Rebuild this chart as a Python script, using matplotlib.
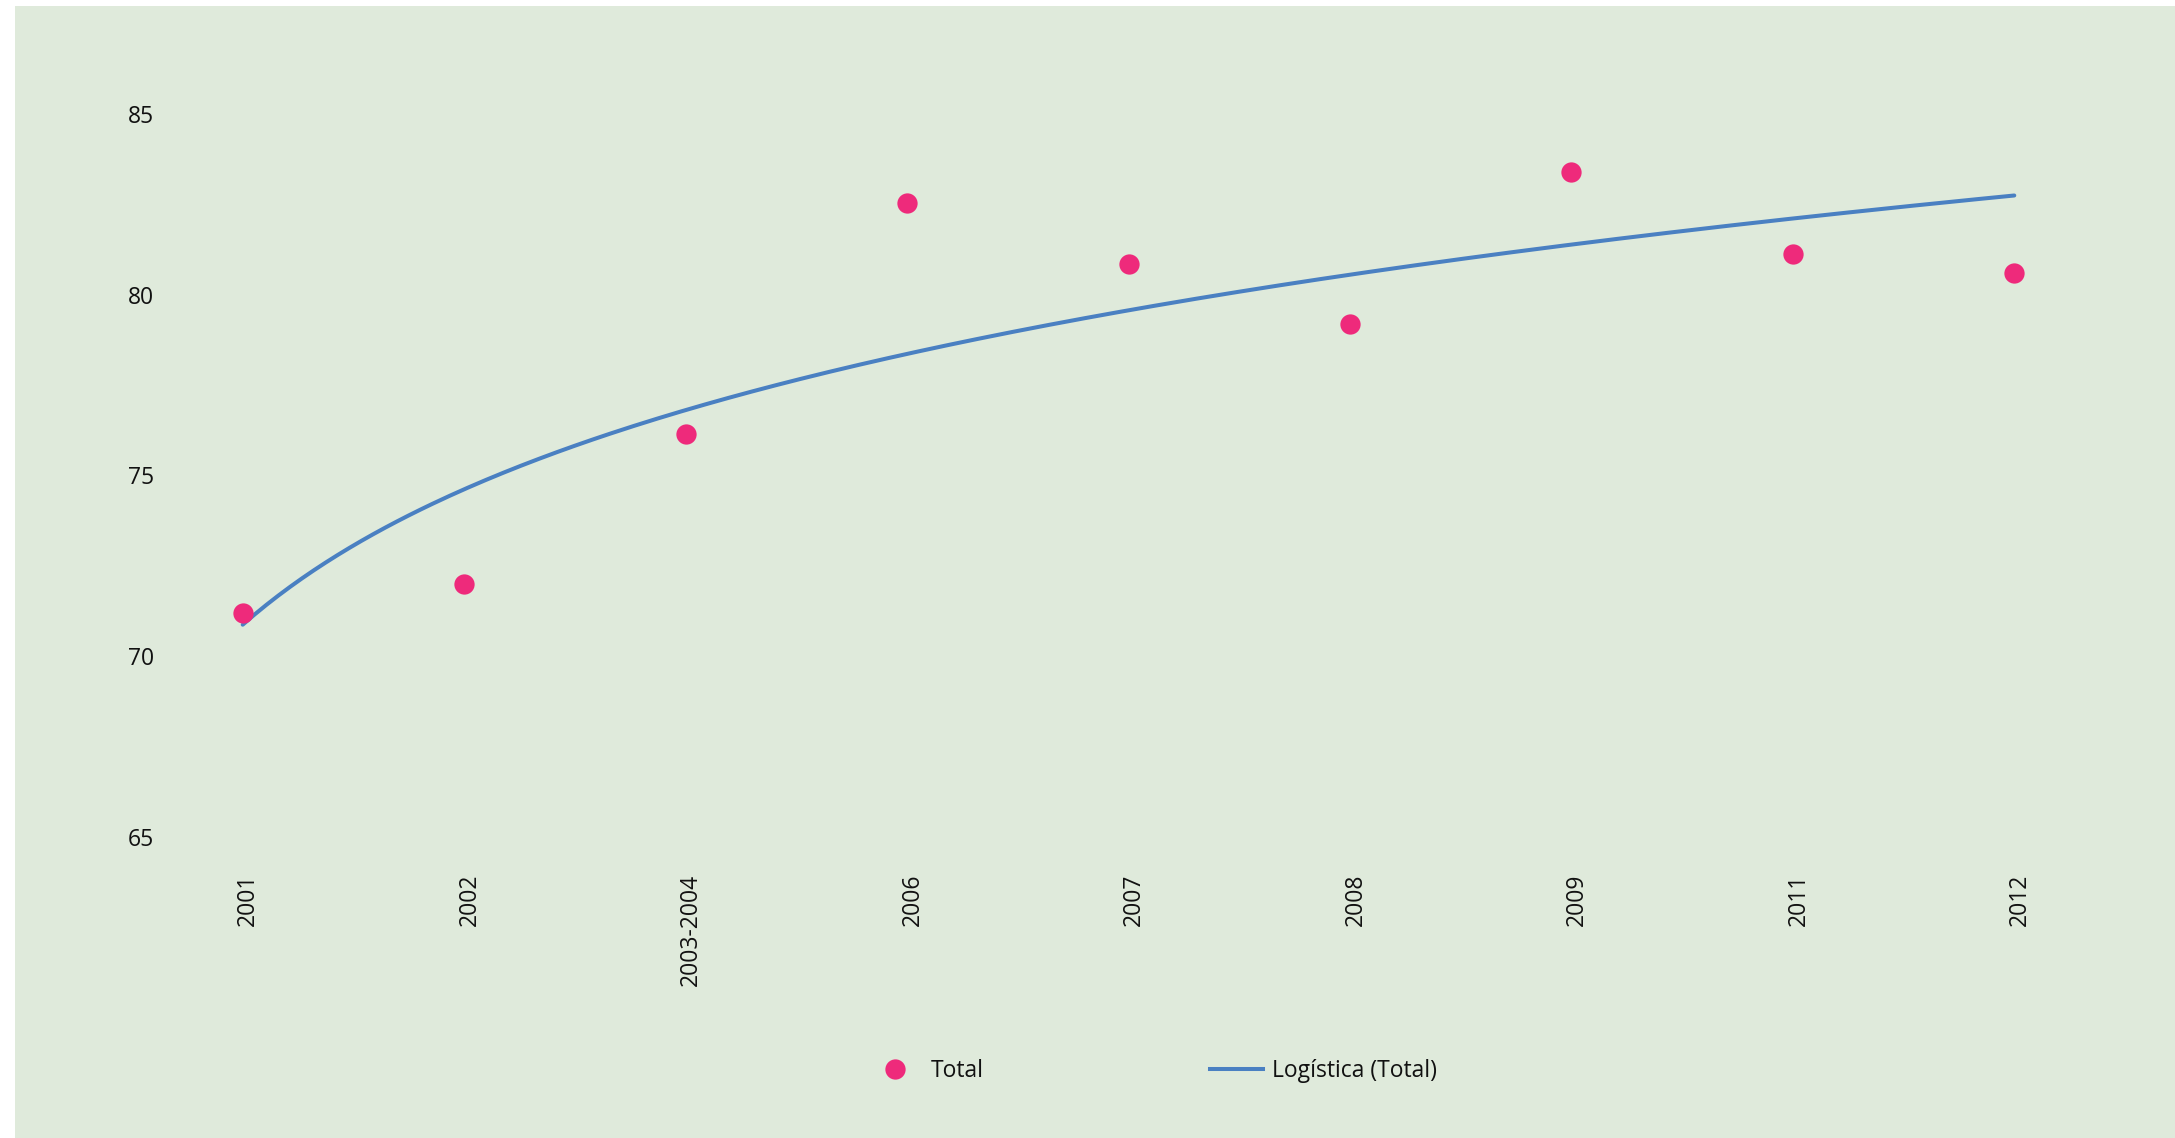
"""
Scatter of yearly totals with a logarithmic trend line ("Logística").
"""
import matplotlib.pyplot as plt
import numpy as np
from matplotlib.lines import Line2D
from matplotlib.patches import Rectangle
from matplotlib.transforms import ScaledTranslation

# data
years = ['2001', '2002', '2003-2004', '2006', '2007', '2008', '2009', '2011', '2012']
total = [71.18, 71.99, 76.13, 82.54, 80.85, 79.20, 83.39, 81.12, 80.59]
y_ticks = [65, 70, 75, 80, 85]

W, H, DPI = 2175, 1138, 100
bg = '#dfeadb'
pink = '#ee2a7b'
blue = '#4a80c2'

plt.rcParams['font.family'] = ['Open Sans', 'DejaVu Sans']

fig = plt.figure(figsize=(W / DPI, H / DPI), dpi=DPI)
fig.patch.set_facecolor('white')
# green chart panel (white strip on left and top)
fig.patches.append(Rectangle((15 / W, 0), 1 - 15 / W, 1 - 6 / H,
                             transform=fig.transFigure, facecolor=bg,
                             edgecolor='none', zorder=-10))

# plot area in pixels
left, right = 165, 2092
top, bottom = 114, 836.5
ax = fig.add_axes([left / W, 1 - bottom / H, (right - left) / W, (bottom - top) / H])
ax.set_facecolor('none')

x = np.arange(1, len(years) + 1)

# log trend fitted on the category index, like the spreadsheet trend line
b, a = np.polyfit(np.log(x), total, 1)
xs = np.linspace(1, len(years), 300)
ax.plot(xs, a + b * np.log(xs), color=blue, lw=2.9, solid_capstyle='round',
        zorder=2, clip_on=False)

ax.plot(x, total, linestyle='none', marker='o', markersize=14.6, color=pink,
        markeredgewidth=0, zorder=3, clip_on=False)

pad = (242.7 - left) / 221.4
ax.set_xlim(1 - pad, len(years) + pad)
ax.set_ylim(65, 85)
ax.set_yticks(y_ticks)
ax.set_xticks(x)
ax.set_xticklabels(years, rotation=90, va='top', ha='center')
ax.tick_params(axis='both', length=0, labelsize=16.5, colors='#111111')
ax.tick_params(axis='y', pad=8)
ax.tick_params(axis='x', pad=27)
# nudge year labels a little to the right, as in the original
shift = ScaledTranslation(4 / 72, 0, fig.dpi_scale_trans)
for lbl in ax.get_xticklabels():
    lbl.set_transform(lbl.get_transform() + shift)
for s in ax.spines.values():
    s.set_visible(False)

legend_elements = [
    Line2D([0], [0], linestyle='none', marker='o', markersize=14.6, color=pink,
           markeredgewidth=0, label='Total'),
    Line2D([0], [0], color=blue, lw=2.9, label='Logística (Total)'),
]
fig.legend(handles=legend_elements, loc='center', bbox_to_anchor=(0.530, 1 - 1071 / H),
           ncol=2, frameon=False, fontsize=16.5, handlelength=2.3,
           handletextpad=0.4, columnspacing=9.9, labelcolor='#111111')

fig.savefig('out.png', dpi=DPI, facecolor=fig.get_facecolor())
